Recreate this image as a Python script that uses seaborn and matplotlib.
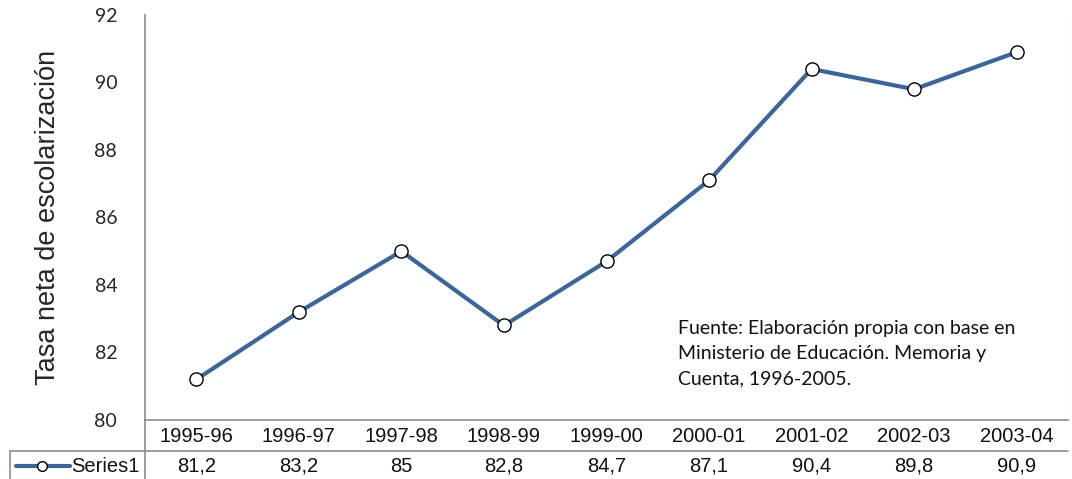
import matplotlib
matplotlib.use("Agg")
import matplotlib.pyplot as plt
import matplotlib.transforms as mtransforms
from matplotlib.lines import Line2D
import seaborn as sns
import pandas as pd

# School years and net enrolment rate
periods = ["1995-96", "1996-97", "1997-98", "1998-99", "1999-00",
           "2000-01", "2001-02", "2002-03", "2003-04"]
rates = [81.2, 83.2, 85, 82.8, 84.7, 87.1, 90.4, 89.8, 90.9]
rate_labels = ["81,2", "83,2", "85", "82,8", "84,7", "87,1", "90,4", "89,8", "90,9"]
y_ticks = [80, 82, 84, 86, 88, 90, 92]
series_name = "Series1"

df = pd.DataFrame({"periodo": periods, "tasa": rates})

sns.set_theme(style="white")
plt.rcParams["font.family"] = ["Liberation Sans", "DejaVu Sans"]

W, H = 1072, 479
fig = plt.figure(figsize=(W / 100, H / 100), dpi=100)
ax = fig.add_axes([145 / W, 1 - 420 / H, (1068 - 145) / W, (420 - 15) / H])
ax.set_facecolor("#FDFEFF")

line_color = "#3D6597"
sns.lineplot(data=df, x="periodo", y="tasa", ax=ax, color=line_color,
             linewidth=3.0, marker="o", markersize=9.5,
             markerfacecolor="white", markeredgecolor="black",
             markeredgewidth=1.0, sort=False)

ax.set_xlim(-0.5, len(periods) - 0.5)
ax.set_ylim(80, 92)
ax.set_yticks(y_ticks)
ax.set_yticklabels([str(v) for v in y_ticks], fontsize=14, family="Lato")
ax.tick_params(axis="y", length=0, pad=20)
ax.set_xticks([])
ax.set_xlabel("")
ax.set_ylabel("Tasa neta de escolarización", fontsize=19.5, labelpad=24)

for side in ["top", "right"]:
    ax.spines[side].set_visible(False)
for side in ["left", "bottom"]:
    ax.spines[side].set_color("#8C8C8C")
    ax.spines[side].set_linewidth(1.2)

# Data table under the plot area
blend = mtransforms.blended_transform_factory(ax.transData, ax.transAxes)
axh = 405.0
def yfrac(py):
    return (420 - py) / axh

for i, (p, lab) in enumerate(zip(periods, rate_labels)):
    ax.text(i, yfrac(437), p, transform=blend, ha="center", va="center",
            fontsize=14.5, clip_on=False, color="#111111")
    ax.text(i, yfrac(466), lab, transform=blend, ha="center", va="center",
            fontsize=14.5, clip_on=False, color="#111111")

grid_color = "#8C8C8C"
fig.add_artist(Line2D([10 / W, 1068 / W], [1 - 451 / H, 1 - 451 / H],
                      color=grid_color, linewidth=1.2))
fig.add_artist(Line2D([10 / W, 10 / W], [1 - 451 / H, 0],
                      color=grid_color, linewidth=1.2))
fig.add_artist(Line2D([145 / W, 145 / W], [1 - 420 / H, 0],
                      color=grid_color, linewidth=1.2))

# Legend key in the table row
ky = 1 - 466 / H
fig.add_artist(Line2D([16 / W, 70 / W], [ky, ky], color=line_color, linewidth=3.0))
fig.add_artist(Line2D([42 / W], [ky], marker="o", markersize=7,
                      markerfacecolor="white", markeredgecolor="black",
                      markeredgewidth=1.0, linestyle="none"))
fig.text(71 / W, ky, series_name, ha="left", va="center", fontsize=14.5,
         color="#111111")

# Source note
ax.text(0.577, 0.248,
        "Fuente: Elaboración propia con base en\nMinisterio de Educación. Memoria y\nCuenta, 1996-2005.",
        transform=ax.transAxes, ha="left", va="top", fontsize=14,
        family="Lato", linespacing=1.6, color="#111111")

fig.savefig("out.png", dpi=100)
